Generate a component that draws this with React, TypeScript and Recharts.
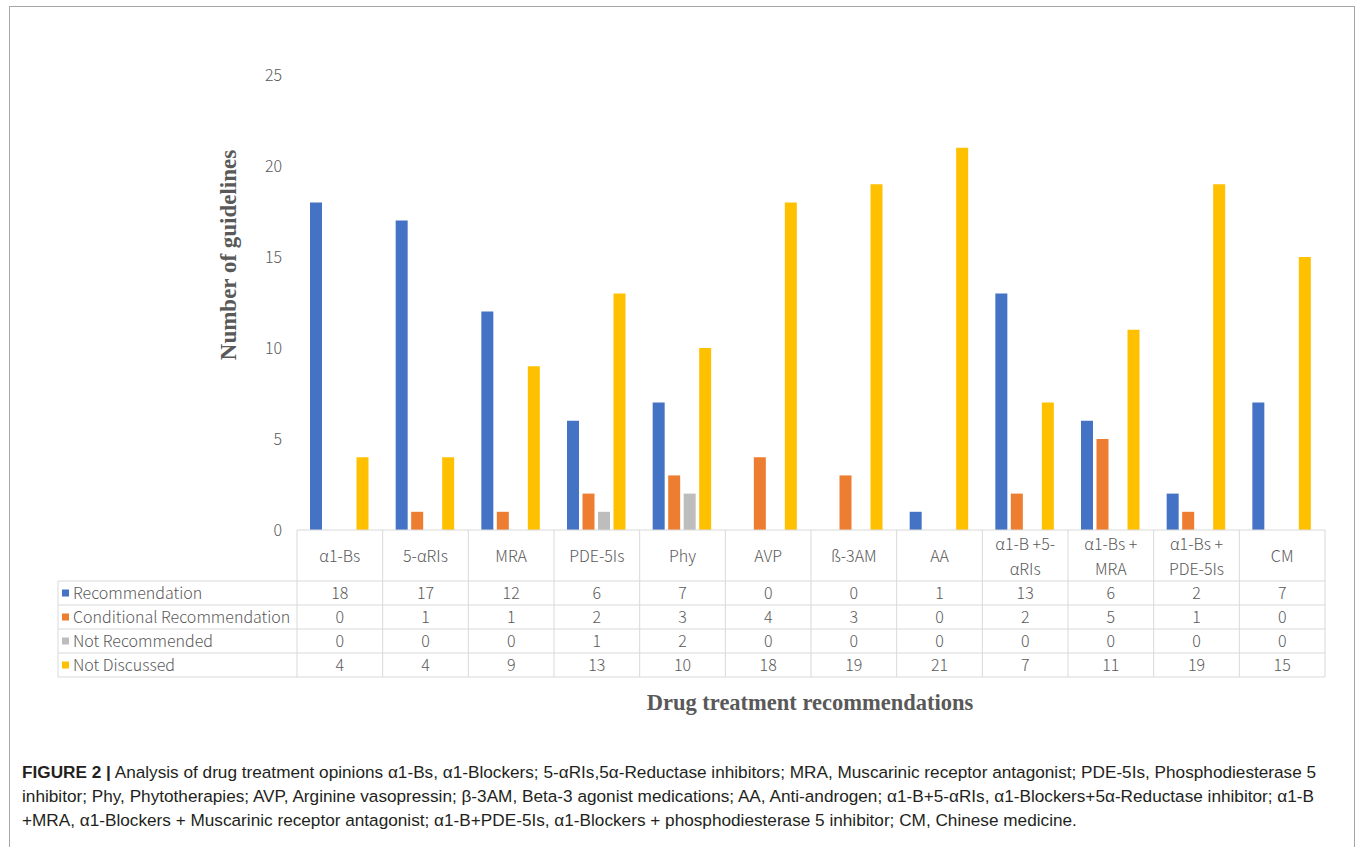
import { BarChart, Bar, XAxis, YAxis } from "recharts";

const categories = [
  "α1-Bs",
  "5-αRIs",
  "MRA",
  "PDE-5Is",
  "Phy",
  "AVP",
  "ß-3AM",
  "AA",
  "α1-B +5-\nαRIs",
  "α1-Bs +\nMRA",
  "α1-Bs +\nPDE-5Is",
  "CM",
];
const recommendation = [18, 17, 12, 6, 7, 0, 0, 1, 13, 6, 2, 7];
const conditional = [0, 1, 1, 2, 3, 4, 3, 0, 2, 5, 1, 0];
const notRecommended = [0, 0, 0, 1, 2, 0, 0, 0, 0, 0, 0, 0];
const notDiscussed = [4, 4, 9, 13, 10, 18, 19, 21, 7, 11, 19, 15];
const yTicks = [0, 5, 10, 15, 20, 25];

const seriesNames = [
  "Recommendation",
  "Conditional Recommendation",
  "Not Recommended",
  "Not Discussed",
];
const seriesValues = [recommendation, conditional, notRecommended, notDiscussed];
const colors = ["#4472C4", "#ED7D31", "#BDBDBD", "#FFC000"];

const data = categories.map((c, i) => ({
  name: c,
  rec: recommendation[i],
  cond: conditional[i],
  notRec: notRecommended[i],
  notDisc: notDiscussed[i],
}));

// layout
const PLOT_LEFT = 297;
const PLOT_RIGHT = 1325;
const BAND = (PLOT_RIGHT - PLOT_LEFT) / categories.length;
const HEADER_H = 51;
const ROW_H = 24;
const TABLE_H = HEADER_H + ROW_H * 4;
const LEGEND_LEFT = 58;
const GRID = "#D9D9D9";
const TXT = "#595959";
const TABLE_FONT = "'Noto Sans CJK SC', 'Noto Sans', sans-serif";

function TableTick(props: any) {
  const { x, y, payload, index } = props;
  const left = x - BAND / 2;
  const lines = String(payload.value).split("\n");
  const rowTops = [0, 1, 2, 3, 4].map((r) => y + HEADER_H + r * ROW_H);
  return (
    <g fontFamily={TABLE_FONT} fontSize={16} fontWeight={300} fill={TXT}>
      {index === 0 && (
        <line x1={left} y1={y} x2={left} y2={y + TABLE_H} stroke={GRID} />
      )}
      <line x1={left + BAND} y1={y} x2={left + BAND} y2={y + TABLE_H} stroke={GRID} />
      {rowTops.map((t, i) => (
        <line key={i} x1={left} y1={t} x2={left + BAND} y2={t} stroke={GRID} />
      ))}
      {lines.map((l, i) => (
        <text
          key={i}
          x={x}
          y={lines.length === 1 ? y + 32 : y + 20 + i * 25}
          textAnchor="middle"
        >
          {l}
        </text>
      ))}
      {seriesValues.map((vals, r) => (
        <text key={r} x={x} y={rowTops[r] + 18} textAnchor="middle">
          {vals[index]}
        </text>
      ))}
      {index === 0 && (
        <g>
          <line x1={LEGEND_LEFT} y1={rowTops[0]} x2={LEGEND_LEFT} y2={rowTops[4]} stroke={GRID} />
          {rowTops.map((t, i) => (
            <line key={i} x1={LEGEND_LEFT} y1={t} x2={left} y2={t} stroke={GRID} />
          ))}
          {seriesNames.map((n, r) => (
            <g key={n}>
              <rect x={LEGEND_LEFT + 4} y={rowTops[r] + 8.5} width={7} height={7} fill={colors[r]} />
              <text x={LEGEND_LEFT + 15} y={rowTops[r] + 18} textAnchor="start">
                {n}
              </text>
            </g>
          ))}
        </g>
      )}
    </g>
  );
}

function YTitle() {
  return (
    <text
      x={236}
      y={255}
      transform="rotate(-90 236 255)"
      textAnchor="middle"
      fontFamily="'Liberation Serif', serif"
      fontWeight="bold"
      fontSize={23}
      fill={TXT}
    >
      Number of guidelines
    </text>
  );
}

export default function App() {
  return (
    <div
      style={{
        position: "absolute",
        left: 0,
        top: 0,
        width: 1357,
        height: 847,
        overflow: "hidden",
        background: "#fff",
      }}
    >
      <div
        style={{
          position: "absolute",
          left: 9,
          top: 6,
          width: 1344,
          height: 900,
          border: "1px solid #A6A6A6",
        }}
      />
      <div style={{ position: "absolute", left: 0, top: 0 }}>
        <BarChart
          width={1357}
          height={847}
          data={data}
          margin={{ top: 75, right: 1357 - PLOT_RIGHT, left: PLOT_LEFT - 60, bottom: 847 - 530 - TABLE_H }}
          barCategoryGap={13}
          barGap={3.5}
        >
          <XAxis
            dataKey="name"
            height={TABLE_H}
            interval={0}
            tickSize={0}
            tickMargin={0}
            tickLine={false}
            axisLine={{ stroke: GRID }}
            tick={<TableTick />}
          />
          <YAxis
            width={60}
            domain={[0, 25]}
            ticks={yTicks}
            axisLine={false}
            tickLine={false}
            tickSize={0}
            tickMargin={15}
            tick={{ fill: TXT, fontSize: 16, fontFamily: TABLE_FONT, fontWeight: 300 }}
            label={<YTitle />}
          />
          <Bar dataKey="rec" fill={colors[0]} isAnimationActive={false} />
          <Bar dataKey="cond" fill={colors[1]} isAnimationActive={false} />
          <Bar dataKey="notRec" fill={colors[2]} isAnimationActive={false} />
          <Bar dataKey="notDisc" fill={colors[3]} isAnimationActive={false} />
        </BarChart>
      </div>
      <div
        style={{
          position: "absolute",
          left: 0,
          width: 1620,
          top: 690,
          textAlign: "center",
          fontFamily: "'Liberation Serif', serif",
          fontWeight: "bold",
          fontSize: 22.5,
          color: TXT,
        }}
      >
        Drug treatment recommendations
      </div>
      <div
        style={{
          position: "absolute",
          left: 22,
          top: 760,
          fontFamily: "'Liberation Sans', Arial, sans-serif",
          fontSize: 17.2,
          lineHeight: "24px",
          color: "#231F20",
          whiteSpace: "nowrap",
        }}
      >
        <div>
          <b>FIGURE 2 |</b> Analysis of drug treatment opinions α1-Bs, α1-Blockers; 5-αRIs,5α-Reductase
          inhibitors; MRA, Muscarinic receptor antagonist; PDE-5Is, Phosphodiesterase 5
        </div>
        <div>
          inhibitor; Phy, Phytotherapies; AVP, Arginine vasopressin; β-3AM, Beta-3 agonist medications; AA,
          Anti-androgen; α1-B+5-αRIs, α1-Blockers+5α-Reductase inhibitor; α1-B
        </div>
        <div>
          +MRA, α1-Blockers + Muscarinic receptor antagonist; α1-B+PDE-5Is, α1-Blockers + phosphodiesterase 5
          inhibitor; CM, Chinese medicine.
        </div>
      </div>
    </div>
  );
}
